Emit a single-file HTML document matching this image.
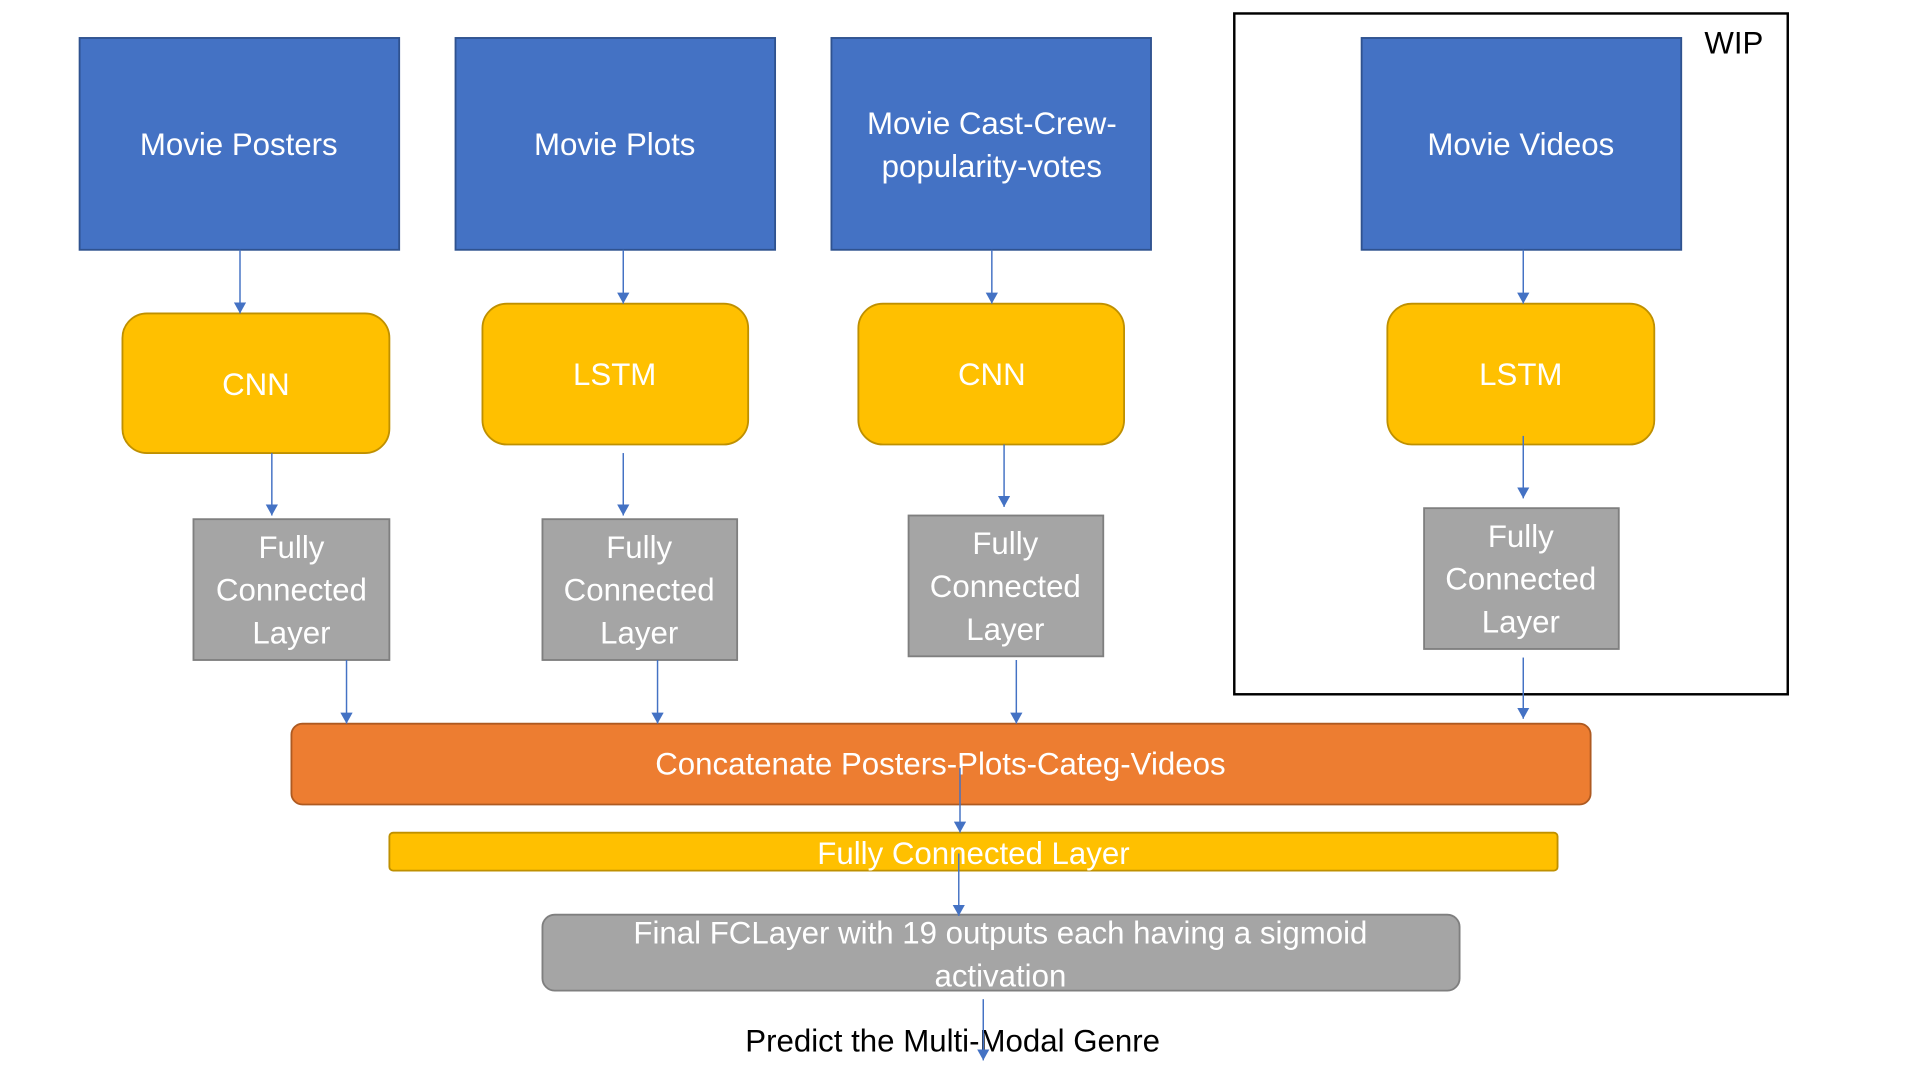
<!DOCTYPE html>
<html><head><meta charset="utf-8"><style>
html,body{margin:0;padding:0;background:#fff;width:1920px;height:1080px;overflow:hidden}
svg{display:block}
text{font-family:"Liberation Sans",sans-serif;fill:#fff;font-size:25.5px;text-anchor:middle;dominant-baseline:central}
</style></head><body>
<svg width="1920" height="1080" viewBox="0 0 1568 882" preserveAspectRatio="none">
<defs><marker id="a" markerWidth="10" markerHeight="10" refX="9" refY="5" orient="auto" markerUnits="userSpaceOnUse" viewBox="0 0 10 10"><path d="M0,0 L9,5 L0,10 z" fill="#4472C4"/></marker></defs>
<rect x="1008" y="11" width="452" height="556" fill="none" stroke="#000" stroke-width="2"/>
<text x="1416" y="35" style="fill:#000">WIP</text>
<g fill="#4472C4" stroke="#2F528F" stroke-width="1.5">
<rect x="65" y="31" width="261" height="173"/><rect x="372" y="31" width="261" height="173"/>
<rect x="679" y="31" width="261" height="173"/><rect x="1112" y="31" width="261" height="173"/></g>
<text x="195" y="118">Movie Posters</text><text x="502" y="118">Movie Plots</text>
<text x="810" y="101">Movie Cast-Crew-</text><text x="810" y="136">popularity-votes</text>
<text x="1242" y="118">Movie Videos</text>
<g fill="#FFC000" stroke="#BF9000" stroke-width="1.5">
<rect x="100" y="256" width="218" height="114" rx="20"/><rect x="394" y="248" width="217" height="115" rx="20"/>
<rect x="701" y="248" width="217" height="115" rx="20"/><rect x="1133" y="248" width="218" height="115" rx="20"/></g>
<text x="209" y="314">CNN</text><text x="502" y="306">LSTM</text><text x="810" y="306">CNN</text><text x="1242" y="306">LSTM</text>
<g fill="#A5A5A5" stroke="#7F7F7F" stroke-width="1.5">
<rect x="158" y="424" width="160" height="115"/><rect x="443" y="424" width="159" height="115"/>
<rect x="742" y="421" width="159" height="115"/><rect x="1163" y="415" width="159" height="115"/></g>
<g><text x="238" y="447">Fully</text><text x="238" y="482">Connected</text><text x="238" y="517">Layer</text>
<text x="522" y="447">Fully</text><text x="522" y="482">Connected</text><text x="522" y="517">Layer</text>
<text x="821" y="444">Fully</text><text x="821" y="479">Connected</text><text x="821" y="514">Layer</text>
<text x="1242" y="438">Fully</text><text x="1242" y="473">Connected</text><text x="1242" y="508">Layer</text></g>
<rect x="238" y="591" width="1061" height="66" rx="9" fill="#ED7D31" stroke="#AE5A21" stroke-width="1.5"/>
<text x="768" y="624">Concatenate Posters-Plots-Categ-Videos</text>
<rect x="318" y="680" width="954" height="31" rx="3" fill="#FFC000" stroke="#BF9000" stroke-width="1.5"/>
<text x="795" y="697">Fully Connected Layer</text>
<rect x="443" y="747" width="749" height="62" rx="10" fill="#A5A5A5" stroke="#7F7F7F" stroke-width="1.5"/>
<text x="817" y="762">Final FCLayer with 19 outputs each having a sigmoid</text>
<text x="817" y="797">activation</text>
<text x="778" y="850" style="fill:#000">Predict the Multi-Modal Genre</text>
<g stroke="#4472C4" stroke-width="1.2" marker-end="url(#a)">
<line x1="196" y1="204" x2="196" y2="256"/><line x1="509" y1="204" x2="509" y2="248"/>
<line x1="810" y1="204" x2="810" y2="248"/><line x1="1244" y1="204" x2="1244" y2="248"/>
<line x1="222" y1="370" x2="222" y2="421"/><line x1="509" y1="370" x2="509" y2="421"/>
<line x1="820" y1="363" x2="820" y2="414"/><line x1="1244" y1="356" x2="1244" y2="407"/>
<line x1="283" y1="539" x2="283" y2="591"/><line x1="537" y1="539" x2="537" y2="591"/>
<line x1="830" y1="539" x2="830" y2="591"/><line x1="1244" y1="537" x2="1244" y2="587"/>
<line x1="784" y1="627" x2="784" y2="680"/><line x1="783" y1="697" x2="783" y2="748"/>
<line x1="803" y1="816" x2="803" y2="866"/></g>
</svg>
</body></html>
